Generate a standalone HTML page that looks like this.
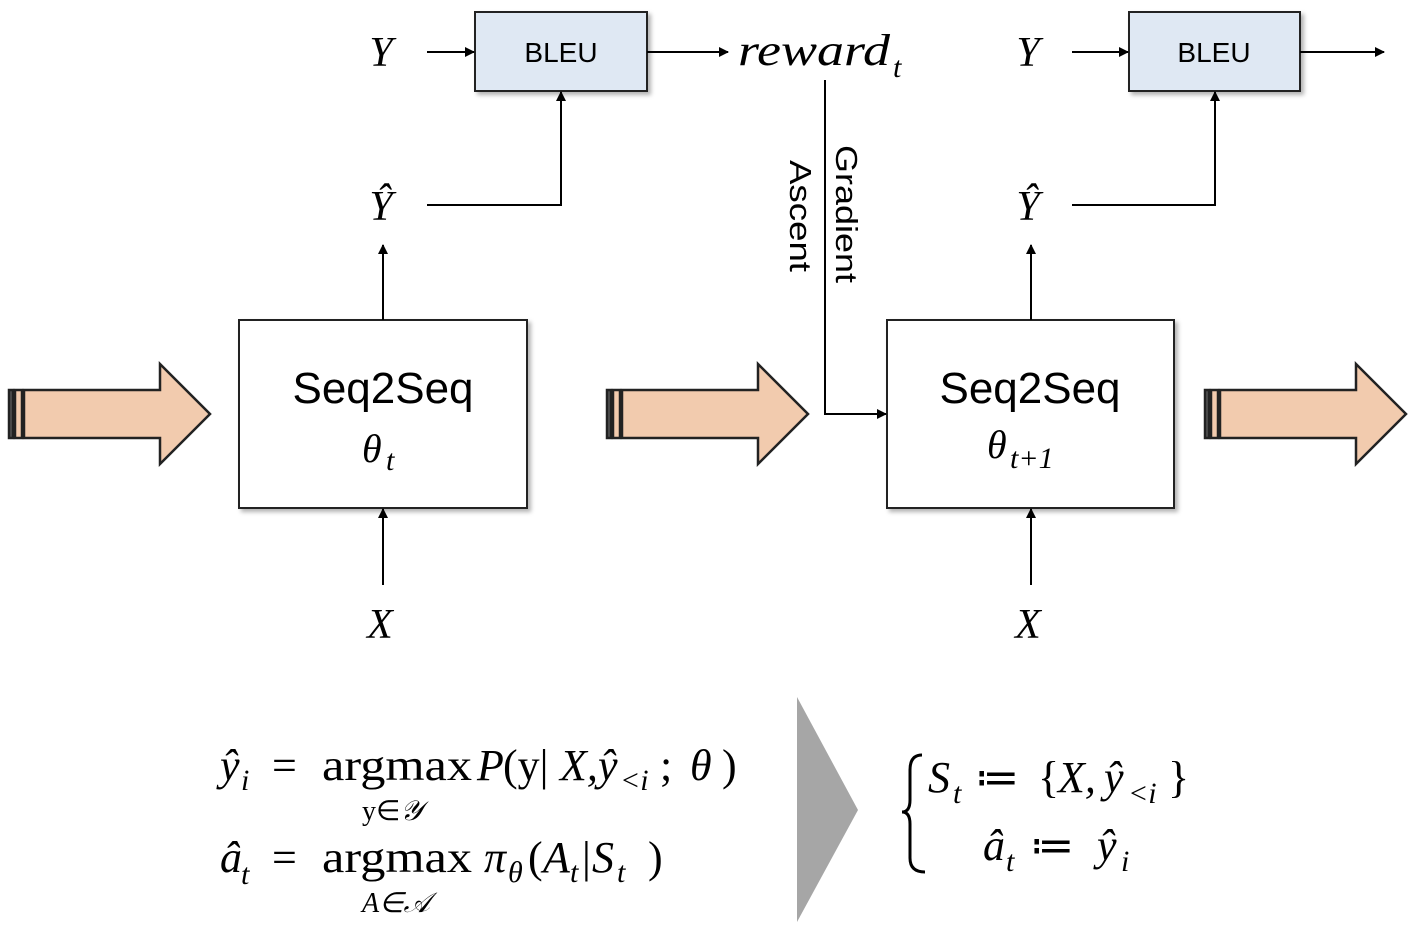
<!DOCTYPE html>
<html><head><meta charset="utf-8"><style>
html,body{margin:0;padding:0;background:#fff;}
svg{display:block;}
.m{font-family:"Liberation Serif",serif;font-style:italic;fill:#000;}
.r{font-family:"Liberation Serif",serif;fill:#000;}
.s{font-family:"Liberation Sans","DejaVu Sans",sans-serif;fill:#000;}
</style></head><body>
<svg width="1426" height="936" viewBox="0 0 1426 936" xmlns="http://www.w3.org/2000/svg">
<defs>
<marker id="ah" markerWidth="10" markerHeight="10" refX="9" refY="5" orient="auto" markerUnits="userSpaceOnUse">
<path d="M0,0 L10,5 L0,10 z" fill="#000"/></marker>
<filter id="sh" x="-10%" y="-10%" width="130%" height="130%"><feDropShadow dx="3" dy="3" stdDeviation="2" flood-color="#000" flood-opacity="0.3"/></filter>
</defs>
<g stroke="#222" stroke-width="2.5" fill="#f2cbae">
<g id="ba">
<rect x="9" y="390" width="4" height="48" fill="#555"/>
<rect x="15" y="390" width="7" height="48"/>
<path d="M24,390 L160,390 L160,364 L210,414 L160,464 L160,438 L24,438 Z"/>
</g>
<use href="#ba" x="598"/>
<use href="#ba" x="1196"/>
</g>
<g fill="#fff" stroke="#222" stroke-width="2" filter="url(#sh)">
<rect x="239" y="320" width="288" height="188"/>
<rect x="887" y="320" width="287" height="188"/>
</g>
<g fill="#dfe8f3" stroke="#222" stroke-width="2" filter="url(#sh)">
<rect x="475" y="12" width="172" height="79"/>
<rect x="1129" y="12" width="171" height="79"/>
</g>
<g stroke="#000" stroke-width="2" fill="none" marker-end="url(#ah)">
<line x1="427" y1="52" x2="474" y2="52"/>
<line x1="647" y1="52" x2="728" y2="52"/>
<polyline points="427,205 561,205 561,92"/>
<line x1="383" y1="320" x2="383" y2="245"/>
<line x1="383" y1="585" x2="383" y2="509"/>
<polyline points="825,80 825,414 886,414"/>
<line x1="1072" y1="52" x2="1128" y2="52"/>
<line x1="1300" y1="52" x2="1384" y2="52"/>
<polyline points="1072,205 1215,205 1215,92"/>
<line x1="1031" y1="320" x2="1031" y2="245"/>
<line x1="1031" y1="585" x2="1031" y2="509"/>
</g>
<g class="s" font-size="28" text-anchor="middle">
<text x="561" y="62">BLEU</text>
<text x="1214" y="62">BLEU</text>
<text x="383" y="403" font-size="44">Seq2Seq</text>
<text x="1030" y="403" font-size="44">Seq2Seq</text>
</g>
<text class="s" font-size="31" transform="translate(836,145) rotate(90)" textLength="138" lengthAdjust="spacingAndGlyphs">Gradient</text>
<text class="s" font-size="31" transform="translate(790,160) rotate(90)" textLength="112" lengthAdjust="spacingAndGlyphs">Ascent</text>
<g class="m" font-size="42" text-anchor="middle">
<text x="381" y="66">Y</text>
<text x="1028" y="66">Y</text>
<text x="381" y="220">Ŷ</text>
<text x="1028" y="220">Ŷ</text>
<text x="380" y="638">X</text>
<text x="1028" y="638">X</text>
</g>
<text class="m" x="738" y="65" font-size="44" textLength="152" lengthAdjust="spacingAndGlyphs">reward</text>
<text class="m" x="893" y="77" font-size="30">t</text>
<text class="m" x="362" y="462" font-size="40">θ</text>
<text class="m" x="386" y="470" font-size="30">t</text>
<text class="m" x="987" y="458" font-size="40">θ</text>
<text class="m" x="1010" y="468" font-size="30">t+1</text>
<path d="M797,697 L858,810 L797,922 Z" fill="#a6a6a6"/>
<g font-size="44">
<text class="m" x="220" y="780">ŷ</text><text class="m" x="241" y="790" font-size="30">i</text>
<text class="r" x="272" y="780">=</text>
<text class="r" x="322" y="780" textLength="150" lengthAdjust="spacingAndGlyphs">argmax</text>
<text class="m" x="477" y="780">P</text>
<text class="r" x="503" y="780">(y|</text>
<text class="m" x="560" y="780">X,</text>
<text class="m" x="598" y="780">ŷ</text>
<text class="m" x="620" y="790" font-size="30">&lt;i</text>
<text class="r" x="660" y="780">;</text>
<text class="m" x="690" y="780">θ</text>
<text class="r" x="722" y="780">)</text>
<text class="r" x="362" y="820" font-size="28">y∈<tspan class="m">𝒴</tspan></text>
<text class="m" x="220" y="872">â</text><text class="m" x="241" y="884" font-size="30">t</text>
<text class="r" x="272" y="872">=</text>
<text class="r" x="322" y="872" textLength="150" lengthAdjust="spacingAndGlyphs">argmax</text>
<text class="m" x="484" y="872">π</text><text class="m" x="508" y="882" font-size="30">θ</text>
<text class="r" x="528" y="872">(</text>
<text class="m" x="543" y="872">A</text><text class="m" x="570" y="882" font-size="30">t</text>
<text class="r" x="582" y="872">|</text>
<text class="m" x="592" y="872">S</text><text class="m" x="617" y="882" font-size="30">t</text>
<text class="r" x="648" y="872">)</text>
<text class="m" x="362" y="912" font-size="28">A∈𝒜</text>
</g>
<path d="M922,755 Q910,755 910,770 L910,800 Q910,812 902,812 Q910,812 910,824 L910,858 Q910,872 925,872" fill="none" stroke="#000" stroke-width="3"/>
<g font-size="44">
<text class="m" x="928" y="792">S</text><text class="m" x="953" y="803" font-size="30">t</text>
<text class="r" x="975" y="792">≔</text>
<text class="r" x="1038" y="792">{</text>
<text class="m" x="1058" y="792">X,</text>
<text class="m" x="1104" y="792">ŷ</text><text class="m" x="1128" y="803" font-size="30">&lt;i</text>
<text class="r" x="1168" y="792">}</text>
<text class="m" x="983" y="860">â</text><text class="m" x="1006" y="871" font-size="30">t</text>
<text class="r" x="1030" y="860">≔</text>
<text class="m" x="1097" y="860">ŷ</text><text class="m" x="1121" y="871" font-size="30">i</text>
</g>
</svg>
</body></html>
